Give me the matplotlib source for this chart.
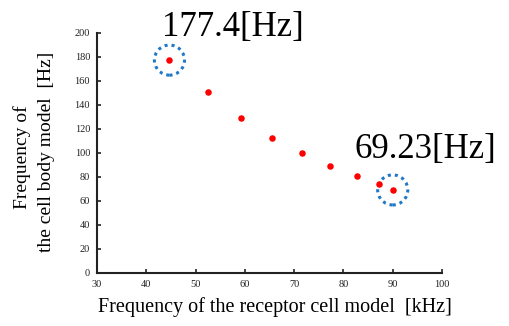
import matplotlib.pyplot as plt

# receptor cell model freq [kHz] vs cell body model freq [Hz]
receptor_khz = [44.7, 52.5, 59.2, 65.5, 71.5, 77.3, 82.7, 87.3, 90.0]
cellbody_hz = [177.4, 151.0, 128.9, 112.5, 99.7, 89.4, 81.1, 74.2, 69.23]
marked = [0, 8]  # points with dotted circles + labels
x_ticks = [30, 40, 50, 60, 70, 80, 90, 100]
y_ticks = [0, 20, 40, 60, 80, 100, 120, 140, 160, 180, 200]

plt.rcParams['font.family'] = ['Liberation Serif', 'DejaVu Serif']

fig = plt.figure(figsize=(5.09, 3.26), dpi=100)
ax = fig.add_axes([0.1906, 0.1626, 0.6778, 0.7362])

ax.scatter(receptor_khz, cellbody_hz, s=22, color='#ff0000', zorder=3, linewidths=0)
ax.scatter([receptor_khz[i] for i in marked], [cellbody_hz[i] for i in marked],
           s=470, facecolors='none', edgecolors='#1f78c8', linewidths=2.2,
           linestyles=(0, (1, 1.3)), zorder=2)

ax.set_xlim(30, 100)
ax.set_ylim(0, 200)
ax.set_xticks(x_ticks)
ax.set_yticks(y_ticks)
ax.tick_params(direction='in', length=3, width=1.2, labelsize=7.5, pad=5, colors='#222222')
for s in ['top', 'right']:
    ax.spines[s].set_visible(False)
for s in ['left', 'bottom']:
    ax.spines[s].set_linewidth(1.5)
    ax.spines[s].set_color('#222222')

ax.set_xlabel('Frequency of the receptor cell model  [kHz]', fontsize=14.5, labelpad=6)
ax.xaxis.label.set_x(0.515)
fig.text(0.043, 0.518, 'Frequency of', rotation=90, fontsize=14, ha='center', va='center')
fig.text(0.092, 0.534, 'the cell body model  [Hz]', rotation=90, fontsize=14, ha='center', va='center')

fig.text(0.318, 0.89, '%.1f[Hz]' % cellbody_hz[marked[0]], fontsize=25, ha='left', va='baseline')
fig.text(0.697, 0.515, '%.2f[Hz]' % cellbody_hz[marked[1]], fontsize=25, ha='left', va='baseline')

fig.savefig('out.png', dpi=100)
